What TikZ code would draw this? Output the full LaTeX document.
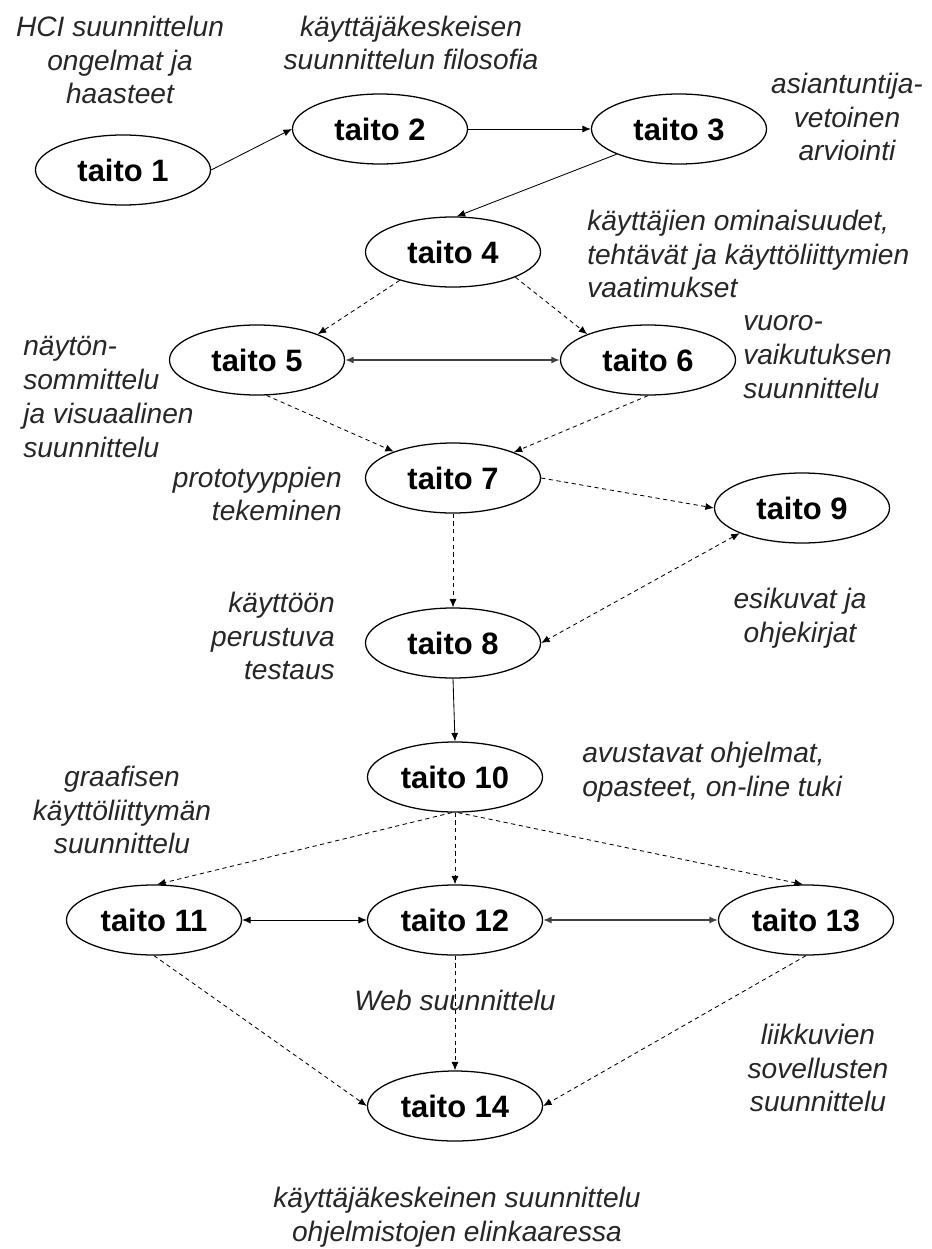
\documentclass[tikz,border=0pt]{standalone}
\usepackage{fontspec}
\setmainfont{Liberation Sans}
\usetikzlibrary{shapes.geometric,arrows.meta}

\begin{document}
\begin{tikzpicture}[x=0.025cm,y=-0.025cm,
        taito/.style={shape=ellipse, draw, line width=0.9pt, minimum width=4.375cm, minimum height=1.75cm, inner sep=0pt, font=\bfseries\fontsize{22}{26}\selectfont},
        note/.style={font=\itshape\fontsize{20}{24}\selectfont, text=black!85, inner sep=0pt},
        dep/.style={-{Latex[length=6pt,width=5pt]}, dash pattern=on 3pt off 2.5pt, line width=0.6pt},
        flow/.style={-{Latex[length=6pt,width=5pt]}, line width=0.6pt},
        both/.style={{Latex[length=6pt,width=5pt]}-{Latex[length=6pt,width=5pt]}, line width=0.6pt},
        boththick/.style={both, line width=1.1pt, black!75}]
    \useasboundingbox (0,0) rectangle (932,1249);

    % taidot
    \node[taito] (t1) at (123,170) {taito 1};
    \node[taito] (t2) at (380,129) {taito 2};
    \node[taito] (t3) at (679,129) {taito 3};
    \node[taito] (t4) at (453,252) {taito 4};
    \node[taito] (t5) at (257,360) {taito 5};
    \node[taito] (t6) at (648,360) {taito 6};
    \node[taito] (t7) at (453,478) {taito 7};
    \node[taito] (t9) at (802,508) {taito 9};
    \node[taito] (t8) at (453,643) {taito 8};
    \node[taito] (t10) at (455,777) {taito 10};
    \node[taito] (t11) at (154,920) {taito 11};
    \node[taito] (t12) at (455,920) {taito 12};
    \node[taito] (t13) at (806,920) {taito 13};
    \node[taito] (t14) at (455,1106) {taito 14};

    % selitteet
    \node[note, align=center] (n1) at (120,60) {HCI suunnittelun\\ongelmat ja\\haasteet};
    \node[note, align=center] (n2) at (411,43) {käyttäjäkeskeisen\\suunnittelun filosofia};
    \node[note, align=center] (n3) at (847,117) {asiantuntija-\\vetoinen\\arviointi};
    \node[note, align=left, anchor=west] (n4) at (587,254) {käyttäjien ominaisuudet,\\tehtävät ja käyttöliittymien\\vaatimukset};
    \node[note, align=left, anchor=west] (n5) at (23,397) {näytön-\\sommittelu\\ja visuaalinen\\suunnittelu};
    \node[note, align=left, anchor=west] (n6) at (743,357) {vuoro-\\vaikutuksen\\suunnittelu};
    \node[note, align=right, anchor=east] (n7) at (342,494) {prototyyppien\\tekeminen};
    \node[note, align=right, anchor=east] (n8) at (335,636) {käyttöön\\perustuva\\testaus};
    \node[note, align=center] (n9) at (800,618) {esikuvat ja\\ohjekirjat};
    \node[note, align=left, anchor=west] (n10) at (582,772) {avustavat ohjelmat,\\opasteet, on-line tuki};
    \node[note, align=center] (n11) at (122,810) {graafisen\\käyttöliittymän\\suunnittelu};
    \node[note] (n12) at (455,1000) {Web suunnittelu};
    \node[note, align=center] (n13) at (818,1068) {liikkuvien\\sovellusten\\suunnittelu};
    \node[note, align=center] (n14) at (457,1217) {käyttäjäkeskeinen suunnittelu\\ohjelmistojen elinkaaressa};

    % yhteydet
    \draw[flow] (t1.east) -- (t2.west);
    \draw[flow] (t2.east) -- (t3.west);
    \draw[flow] (t3.202) -- (t4.84);
    \draw[dep] (t4.208) -- (t5.23);
    \draw[dep] (t4.338) -- (t6.157);
    \draw[boththick] (t5.east) -- (t6.west);
    \draw[dep] (t5.285) -- (t7.156);
    \draw[dep] (t6.south) -- (t7.23);
    \draw[dep] (t7.east) -- (t9.west);
    \draw[dep] (t7.south) -- (t8.north);
    \draw[dep, <->, >={Latex[length=6pt,width=5pt]}] (t9.202) -- (t8.east);
    \draw[flow] (t8.south) -- (t10.north);
    \draw[dep] (t10.265) -- (t11.85);
    \draw[dep] (t10.south) -- (t12.north);
    \draw[dep] (t10.275) -- (t13.95);
    \draw[both] (t11.east) -- (t12.west);
    \draw[boththick] (t12.east) -- (t13.west);
    \draw[dep] (t11.south) -- (t14.west);
    \draw[dep] (t12.south) -- (t14.north);
    \draw[dep] (t13.south) -- (t14.east);
\end{tikzpicture}
\end{document}
